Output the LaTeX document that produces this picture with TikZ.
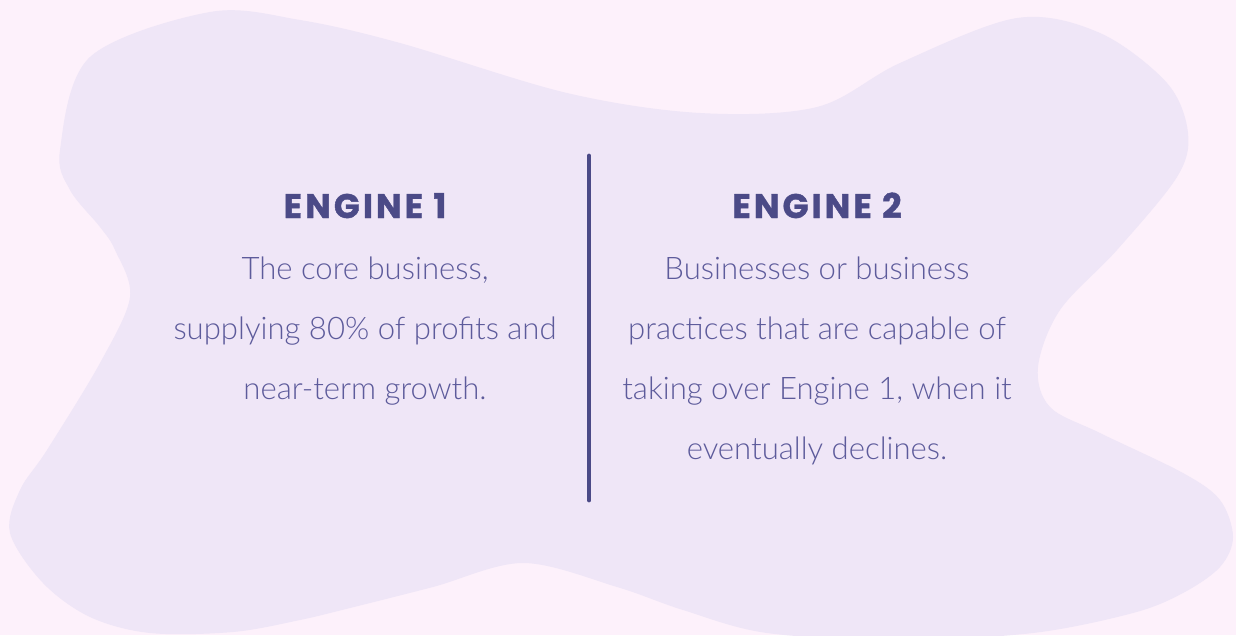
\documentclass[tikz,border=0pt]{standalone}
\usepackage{fontspec}
\setmainfont{Lato Light}
\newfontfamily\headfont{Poppins}[LetterSpace=9,FakeBold=1.2]

\definecolor{pagebg}{HTML}{FDF1FB}
\definecolor{blobfill}{HTML}{EFE6F7}
\definecolor{inkdark}{HTML}{4B4A87}
\definecolor{inklight}{HTML}{5D5B9B}

\begin{document}
\begin{tikzpicture}[x=0.02cm,y=-0.02cm,
        head/.style={anchor=base,inner sep=0pt,text=inkdark,font=\headfont\bfseries\fontsize{19.4}{21}\selectfont},
        body/.style={anchor=base,inner sep=0pt,text=inklight,font=\fontsize{17.7}{20}\selectfont}]
        \useasboundingbox (0,0) rectangle (1236,635);
        \fill[pagebg] (0,0) rectangle (1236,635);

        % Blob behind the text
        \fill[blobfill] plot[smooth cycle,tension=0.55] coordinates {
            (60,150) (90,57) (210,12) (300,20) (400,43) (567,93) (700,113)
            (817,107) (900,63) (1017,18) (1100,33) (1167,83) (1188,133)
            (1177,177) (1117,250) (1060,310) (1038,367) (1050,407) (1100,433)
            (1183,473) (1220,500) (1233,537) (1220,567) (1183,593) (1133,613)
            (1033,633) (900,640) (767,633) (683,610) (617,587) (523,563)
            (433,587) (350,608) (300,620) (233,632) (150,633) (90,617)
            (43,583) (10,533) (20,490) (47,450) (100,363) (130,297)
            (115,250) (100,227) (70,190)};

        % Engine 1
        \node[head] (h1) at (365,218) {ENGINE 1};
        \node[body] (a1) at (365,279) {The core business,};
        \node[body] (a2) at (365,339) {supplying 80\% of profits and};
        \node[body] (a3) at (365,399) {near-term growth.};

        % Engine 2
        \node[head] (h2) at (817,218) {ENGINE 2};
        \node[body] (b1) at (817,279) {Businesses or business};
        \node[body] (b2) at (817,339) {practices that are capable of};
        \node[body] (b3) at (817,399) {taking over Engine 1, when it};
        \node[body] (b4) at (817,459) {eventually declines.};

        % Divider
        \coordinate (top) at (589,156);
        \coordinate (bot) at (589,500);
        \draw[inkdark,line width=2.8pt,line cap=round] (top) -- (bot);
    \end{tikzpicture}
\end{document}
